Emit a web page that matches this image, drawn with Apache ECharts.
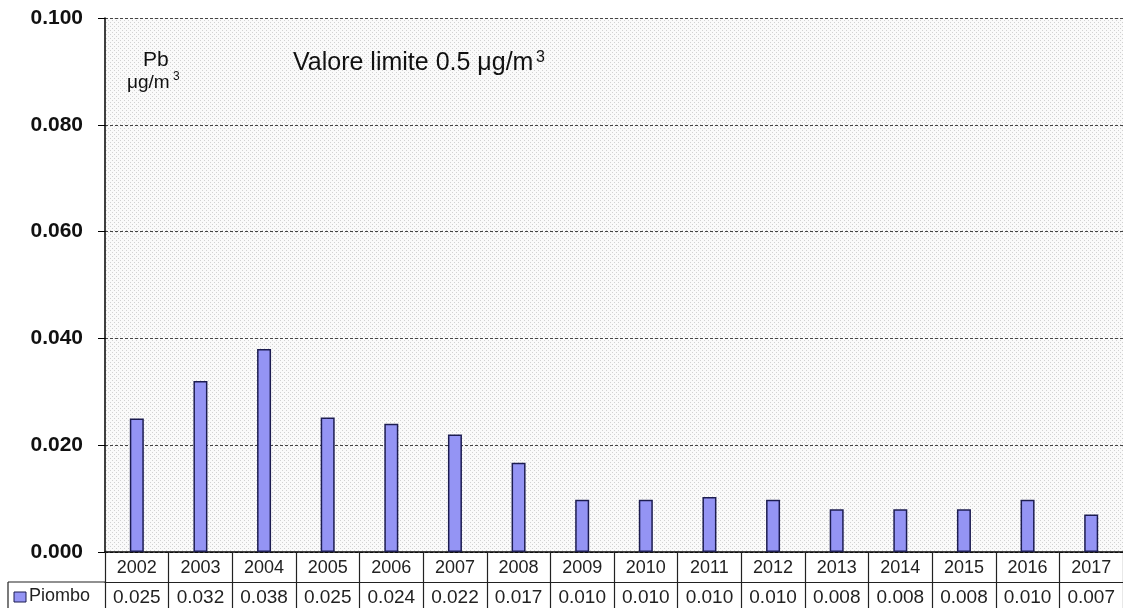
<!DOCTYPE html>
<html><head><meta charset="utf-8">
<script src="https://cdn.jsdelivr.net/npm/echarts@6/dist/echarts.min.js"></script>
<style>html,body{margin:0;padding:0;background:#fff}#c{width:1123px;height:608px}</style>
</head><body><div id="c"></div>
<script>
const years = ['2002','2003','2004','2005','2006','2007','2008','2009','2010','2011','2012','2013','2014','2015','2016','2017'];
const piombo = [0.025,0.032,0.038,0.0252,0.024,0.022,0.0167,0.0098,0.0098,0.0103,0.0098,0.008,0.008,0.008,0.0098,0.007];
const tableValues = ['0.025','0.032','0.038','0.025','0.024','0.022','0.017','0.010','0.010','0.010','0.010','0.008','0.008','0.008','0.010','0.007'];
const yTicks = [0, 0.02, 0.04, 0.06, 0.08, 0.1];

const tile = document.createElement('canvas');
tile.width = 4; tile.height = 4;
const tc = tile.getContext('2d');
tc.fillStyle = '#fafafa'; tc.fillRect(0,0,4,4);
tc.fillStyle = '#d2d2d2'; tc.fillRect(0,0,1,1); tc.fillRect(2,2,1,1);

const chart = echarts.init(document.getElementById('c'));
const F = '"Liberation Sans", Arial, sans-serif';
chart.setOption({
  animation:false,
  backgroundColor:'#fff',
  grid:{left:105, top:18, width:1024, height:534, show:true, borderWidth:0,
        backgroundColor:{image:tile, repeat:'repeat'}},
  xAxis:[{
    type:'category', data:years, position:'bottom',
    axisLine:{show:true, lineStyle:{color:'#000', width:1.5}},
    axisTick:{show:true, length:56, lineStyle:{color:'#222', width:1.2}},
    axisLabel:{color:'#222', fontFamily:F, fontSize:18, margin:7}
  },{
    type:'category', data:tableValues, position:'bottom', offset:30,
    axisLine:{show:true, lineStyle:{color:'#222', width:1.2}},
    axisTick:{show:false},
    axisLabel:{color:'#222', fontFamily:F, fontSize:19, margin:6}
  }],
  yAxis:{
    type:'value', min:0, max:0.1, interval:0.02,
    axisLine:{show:true, lineStyle:{color:'#000', width:1.5}},
    axisTick:{show:true, length:7, lineStyle:{color:'#000'}},
    axisLabel:{color:'#111', fontFamily:F, fontSize:21, fontWeight:'bold', margin:22,
      formatter:v=>v.toFixed(3)},
    splitLine:{show:true, lineStyle:{color:'#444', type:[3,2], width:1}}
  },
  series:[{
    type:'bar', name:'Piombo', data:piombo, barWidth:14, xAxisIndex:0,
    itemStyle:{color:'#9494f4', borderColor:'#1c1c50', borderWidth:1.5}
  }],
  graphic:[
    {type:'text', left:143, top:50, style:{text:'Pb', font:'21px '+F, fill:'#111'}},
    {type:'text', left:127, top:73, style:{text:'μg/m', font:'19px '+F, fill:'#111'}},
    {type:'text', left:173, top:71, style:{text:'3', font:'12px '+F, fill:'#111'}},
    {type:'text', left:293, top:51, style:{text:'Valore limite 0.5 μg/m', font:'25px '+F, fill:'#111'}},
    {type:'text', left:536, top:50, style:{text:'3', font:'16px '+F, fill:'#111'}},
    {type:'line', shape:{x1:8, y1:582, x2:105, y2:582}, style:{stroke:'#222', lineWidth:1.2}},
    {type:'line', shape:{x1:8, y1:582, x2:8, y2:610}, style:{stroke:'#222', lineWidth:1.2}},
    {type:'rect', shape:{x:14, y:592, width:12, height:10}, style:{fill:'#9494f4', stroke:'#1c1c50', lineWidth:1}},
    {type:'text', left:29, top:587, style:{text:'Piombo', font:'18px '+F, fill:'#222'}}
  ]
});
</script></body></html>
